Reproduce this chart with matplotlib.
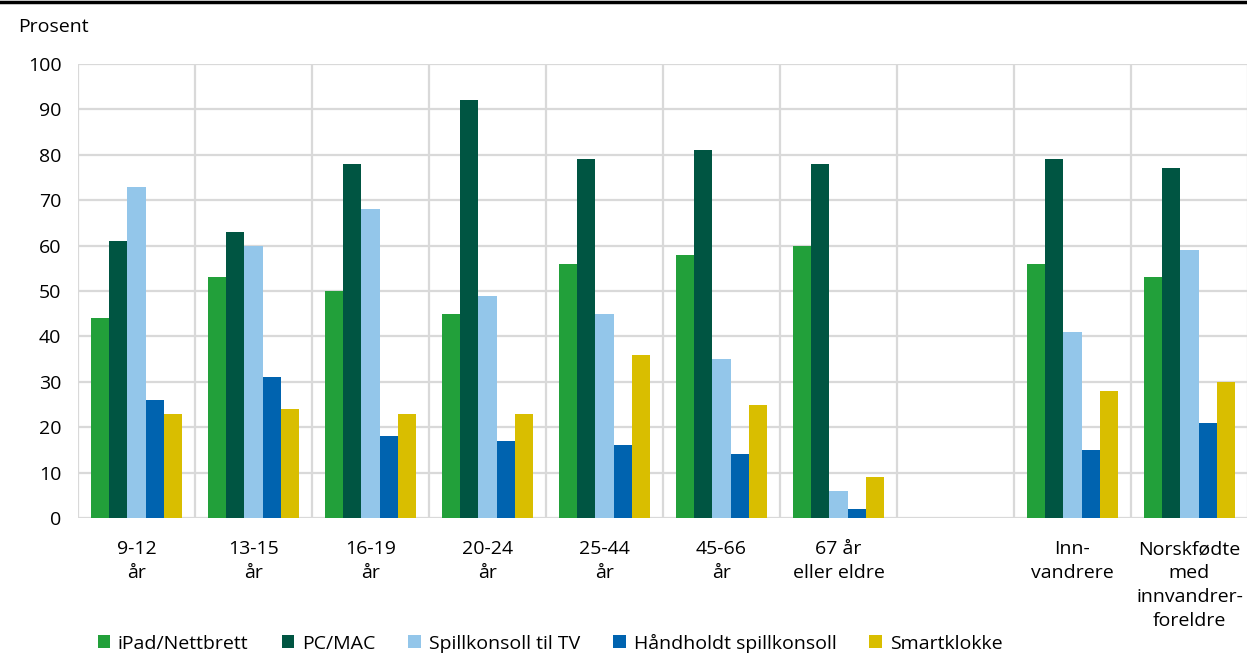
import numpy as np
import matplotlib
matplotlib.use("Agg")
import matplotlib.pyplot as plt
from matplotlib.lines import Line2D
from matplotlib.patches import Patch

plt.rcParams['font.family'] = ['Open Sans', 'DejaVu Sans']

# ---------------------------------------------------------------------------
# Data
# ---------------------------------------------------------------------------
categories = [
    "9-12\når", "13-15\når", "16-19\når", "20-24\når", "25-44\når",
    "45-66\når", "67 år\neller eldre", "", "Inn-\nvandrere",
    "Norskfødte\nmed\ninnvandrer-\nforeldre",
]
series_names = ["iPad/Nettbrett", "PC/MAC", "Spillkonsoll til TV",
                "Håndholdt spillkonsoll", "Smartklokke"]
ipad = [44, 53, 50, 45, 56, 58, 60, np.nan, 56, 53]
pc_mac = [61, 63, 78, 92, 79, 81, 78, np.nan, 79, 77]
spillkonsoll = [73, 60, 68, 49, 45, 35, 6, np.nan, 41, 59]
handholdt = [26, 31, 18, 17, 16, 14, 2, np.nan, 15, 21]
smartklokke = [23, 24, 23, 23, 36, 25, 9, np.nan, 28, 30]
yticks = list(range(0, 101, 10))

colors = ["#22A03A", "#005542", "#93C6EA", "#0063AF", "#D9BE00"]
series = [ipad, pc_mac, spillkonsoll, handholdt, smartklokke]

# ---------------------------------------------------------------------------
# Figure
# ---------------------------------------------------------------------------
fig = plt.figure(figsize=(12.47, 6.66), dpi=100)
ax = fig.add_axes([78 / 1247, 1 - 518 / 666, 1170 / 1247, 454 / 666])

x = np.arange(len(categories))
bar_w = 0.154
for i, (vals, color) in enumerate(zip(series, colors)):
    offs = (i - 2) * bar_w
    ax.bar(x + offs, vals, width=bar_w, color=color, zorder=3)

ax.set_xlim(-0.5, len(categories) - 0.5)
ax.set_ylim(0, 100)
ax.set_yticks(yticks)
ax.set_yticklabels([str(v) for v in yticks], fontsize=14)

# grid: horizontal lines + vertical separators between categories
for v in yticks:
    ax.axhline(v, color="#D9D9D9", linewidth=1.6, zorder=1)
for b in np.arange(-0.5, len(categories) - 0.4, 1.0):
    ax.axvline(b, color="#D9D9D9", linewidth=1.6, zorder=1)

ax.set_xticks(x)
ax.set_xticklabels(categories, fontsize=14, linespacing=1.42, va="top")
ax.tick_params(axis="both", length=0)
ax.tick_params(axis="x", pad=16)
ax.tick_params(axis="y", pad=12)
for s in ax.spines.values():
    s.set_visible(False)

fig.text(18 / 1247, 1 - 27 / 666, "Prosent", fontsize=14, va="center", ha="left")

# black rule on top
fig.add_artist(Line2D([0, 1], [1 - 1.5 / 666, 1 - 1.5 / 666],
                      color="black", linewidth=2.5, transform=fig.transFigure))

handles = [Patch(facecolor=c, edgecolor="none") for c in colors]
fig.legend(handles, series_names, loc="center", ncol=5,
           bbox_to_anchor=(550 / 1247, 1 - 643 / 666), frameon=False,
           fontsize=14, handlelength=0.65, handleheight=0.65,
           handletextpad=0.4, columnspacing=1.7)

fig.savefig("out.png", dpi=100)
